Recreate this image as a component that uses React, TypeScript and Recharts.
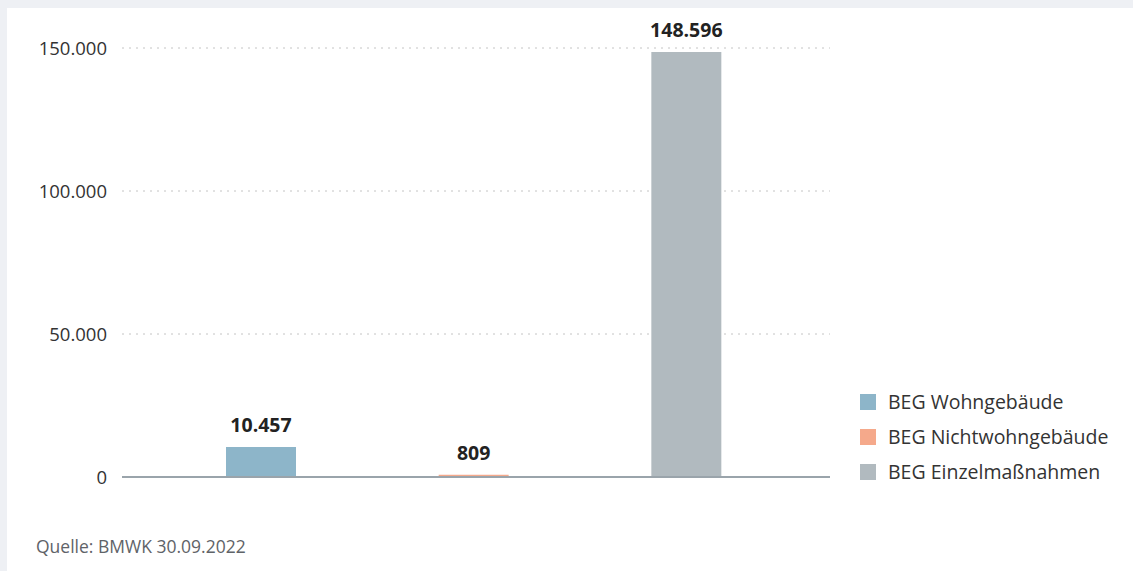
import { BarChart, Bar, XAxis, YAxis, CartesianGrid, Cell, LabelList } from 'recharts';

const categories = ['BEG Wohngebäude', 'BEG Nichtwohngebäude', 'BEG Einzelmaßnahmen'];
const values = [10457, 809, 148596];
const colors = ['#8db5c9', '#f5a98b', '#b1babf'];
const yTicks = [0, 50000, 100000, 150000];
const source = 'Quelle: BMWK 30.09.2022';

const FONT = '"Open Sans", "Noto Sans", sans-serif';

// German thousands separator
const fmt = (v: number) => String(v).replace(/\B(?=(\d{3})+(?!\d))/g, '.');

const data = categories.map((name, i) => ({ name, value: values[i] }));

export default function App() {
  return (
    <div style={{ position: 'fixed', left: 0, top: 0, width: 1133, height: 571, background: '#eef0f4', overflow: 'hidden' }}>
      <div style={{ position: 'absolute', left: 7, top: 8, right: 0, bottom: 0, background: '#fff' }} />
      <div style={{ position: 'absolute', left: 0, top: 0 }}>
        <BarChart width={1133} height={571} data={data} margin={{ top: 48, right: 303, bottom: 64, left: 0 }}>
          <CartesianGrid vertical={false} stroke="#c4c4c4" strokeDasharray="2 5" />
          <XAxis
            dataKey="name"
            height={30}
            tick={false}
            tickLine={false}
            axisLine={{ stroke: '#9aa4ab', strokeWidth: 2 }}
            padding={{ left: 33, right: 37 }}
          />
          <YAxis
            width={122}
            domain={[0, 150000]}
            ticks={yTicks}
            tickFormatter={fmt}
            axisLine={false}
            tickLine={false}
            tickMargin={9}
            tick={{ fill: '#333', fontSize: 18.5, fontFamily: FONT }}
          />
          <Bar dataKey="value" barSize={70} isAnimationActive={false}>
            {data.map((d, i) => (
              <Cell key={d.name} fill={colors[i]} />
            ))}
            <LabelList
              dataKey="value"
              position="top"
              offset={15}
              formatter={(v: any) => fmt(Number(v))}
              style={{ fill: '#222', fontSize: 19.5, fontWeight: 700, fontFamily: FONT }}
            />
          </Bar>
        </BarChart>
      </div>
      <div style={{ position: 'absolute', left: 860, top: 384, fontFamily: FONT, fontSize: 19.5, color: '#333' }}>
        {categories.map((c, i) => (
          <div key={c} style={{ display: 'flex', alignItems: 'center', height: 35 }}>
            <span style={{ width: 16, height: 16, background: colors[i], marginRight: 12, display: 'inline-block' }} />
            {c}
          </div>
        ))}
      </div>
      <div style={{ position: 'absolute', left: 36, top: 534, fontFamily: FONT, fontSize: 17.5, color: '#5f6368' }}>
        {source}
      </div>
    </div>
  );
}
